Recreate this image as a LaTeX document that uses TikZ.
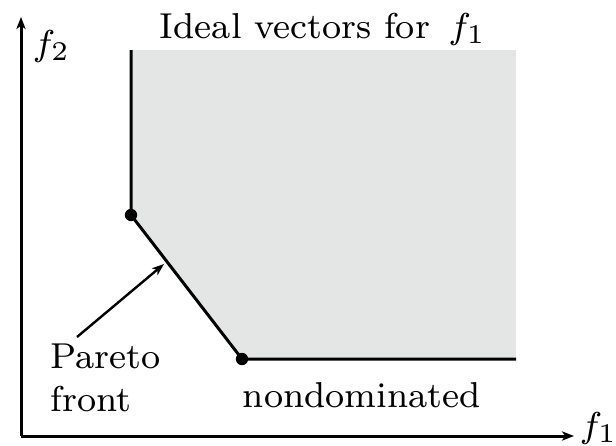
\documentclass[tikz,border=0pt]{standalone}
\usetikzlibrary{arrows.meta}
\definecolor{regiongray}{RGB}{228,230,230}
\tikzset{
  axis/.style={line width=1.5pt, -{Stealth[length=6pt,width=4.6pt,inset=1.6pt]}},
  edge/.style={line width=1.5pt},
  pointer/.style={line width=1.2pt, -{Stealth[length=6pt,width=4.4pt,inset=1.6pt]}},
  dot/.style={circle, fill=black, inner sep=0pt, minimum size=6.2pt},
  lbl/.style={inner sep=0pt, font=\footnotesize, scale=2.25},
}
\begin{document}
\begin{tikzpicture}[x=0.5pt, y=-0.5pt]
\useasboundingbox (0,0) rectangle (616,445);
% corner points of the dominated region
\coordinate (top) at (131,50);
\coordinate (tr) at (516,50);
\coordinate (br) at (516,359);
\coordinate (c1) at (131,215);
\coordinate (c2) at (242,359);
% shaded region and its boundary
\fill[regiongray] (top) -- (tr) -- (br) -- (c2) -- (c1) -- cycle;
\draw[edge] (top) -- (c1) -- (c2) -- (br);
\node[dot] (p1) at (c1) {};
\node[dot] (p2) at (c2) {};
% axes
\coordinate (origin) at (21,436);
\coordinate (xend) at (574,436);
\coordinate (yend) at (21,17);
\draw[axis] (origin) -- (xend);
\draw[axis] (origin) -- (yend);
\node[lbl, anchor=base west] (f1) at (579,437) {$f_1$};
\node[lbl, anchor=base west] (f2) at (32,55) {$f_2$};
% labels
\node[lbl, anchor=base west] (ideal) at (159,38) {Ideal vectors for\ \,$f_1$};
\node[lbl, anchor=base west] (pareto) at (50,368) {Pareto};
\node[lbl, anchor=base west] (front) at (50,411) {front};
\node[lbl, anchor=base west] (nondom) at (242,407) {nondominated};
% pointer to the front
\coordinate (tail) at (77,337);
\coordinate (head) at (164,264);
\draw[pointer] (tail) -- (head);
\end{tikzpicture}
\end{document}
